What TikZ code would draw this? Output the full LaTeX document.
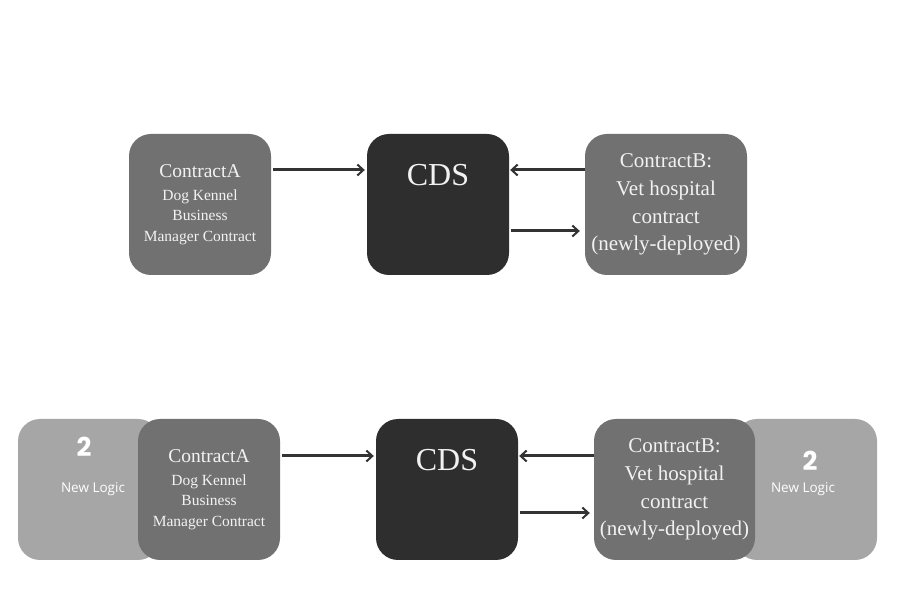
\documentclass[tikz,border=0pt]{standalone}
\usepackage{fontspec}
\setmainfont{Liberation Serif}
\newfontfamily\logicfont{Open Sans}
\newfontfamily\numfont{Poppins}
\usetikzlibrary{positioning, calc, arrows.meta}
\definecolor{boxgray}{HTML}{717171}
\definecolor{cdsgray}{HTML}{2E2E2E}
\definecolor{logicgray}{HTML}{A6A6A6}
\definecolor{arrowgray}{HTML}{333333}
\definecolor{txtwhite}{HTML}{F2F2F2}
\tikzset{>={Straight Barb[length=6pt,width=11pt,line width=2pt]}}
\newcommand{\bigline}{\fontsize{19.5}{20.5}\selectfont}
\begin{document}
\begin{tikzpicture}[x=1pt,y=1pt,
    box/.style={rounded corners=22pt,minimum height=141pt,minimum width=142pt,inner sep=0pt,align=center,text=txtwhite},
    contractA/.style={box,fill=boxgray,font=\fontsize{15.5}{20.5}\selectfont},
    contractB/.style={box,fill=boxgray,minimum width=162pt,font=\fontsize{21}{27.7}\selectfont},
    cdsbox/.style={box,fill=cdsgray},
    logicbox/.style={box,fill=logicgray},
    link/.style={->,draw=arrowgray,line width=3pt}]
    \useasboundingbox (0,0) rectangle (900,600);
    % top row
    \node[contractA] (topA) at (200,395.5) {\bigline ContractA\\[2pt]Dog Kennel\\Business\\Manager Contract};
    \node[cdsbox] (topCDS) at (438,395.5) {};
    \node[text=txtwhite,font=\fontsize{32}{36}\selectfont] (topCDSlabel) at ([yshift=-41pt]topCDS.north) {CDS};
    \node[contractB] (topB) at (666,395.5) {ContractB:\\Vet hospital\\contract\\(newly-deployed)};
    \draw[link,shorten <=2pt,shorten >=2pt] ([yshift=34.5pt]topA.east) -- ([yshift=34.5pt]topCDS.west);
    \draw[link,shorten >=1pt] ([yshift=34.5pt]topB.west) -- ([yshift=34.5pt]topCDS.east);
    \draw[link,shorten <=2pt,shorten >=5pt] ([yshift=-26.5pt]topCDS.east) -- ([yshift=-26.5pt]topB.west);
    % bottom row
    \node[logicbox] (logicA) at (89,110.5) {};
    \node[text=white,font=\numfont\bfseries\fontsize{26}{30}\selectfont] (numA) at (84,153) {2};
    \node[text=white,font=\logicfont\fontsize{13.5}{16}\selectfont] (logicAlabel) at (93,111) {New Logic};
    \node[contractA] (botA) at (209,110.5) {\bigline ContractA\\[2pt]Dog Kennel\\Business\\Manager Contract};
    \node[cdsbox] (botCDS) at (447,110.5) {};
    \node[text=txtwhite,font=\fontsize{32}{36}\selectfont] (botCDSlabel) at ([yshift=-41pt]botCDS.north) {CDS};
    \node[logicbox] (logicB) at (806,110.5) {};
    \node[contractB,minimum width=161pt] (botB) at (674.5,110.5) {ContractB:\\Vet hospital\\contract\\(newly-deployed)};
    \node[text=white,font=\numfont\bfseries\fontsize{26}{30}\selectfont] (numB) at (810,139) {2};
    \node[text=white,font=\logicfont\fontsize{13.5}{16}\selectfont] (logicBlabel) at (803,111) {New Logic};
    \draw[link,shorten <=2pt,shorten >=2pt] ([yshift=33.5pt]botA.east) -- ([yshift=33.5pt]botCDS.west);
    \draw[link,shorten >=1pt] ([yshift=33.5pt]botB.west) -- ([yshift=33.5pt]botCDS.east);
    \draw[link,shorten <=2pt,shorten >=4pt] ([yshift=-23.5pt]botCDS.east) -- ([yshift=-23.5pt]botB.west);
\end{tikzpicture}
\end{document}
